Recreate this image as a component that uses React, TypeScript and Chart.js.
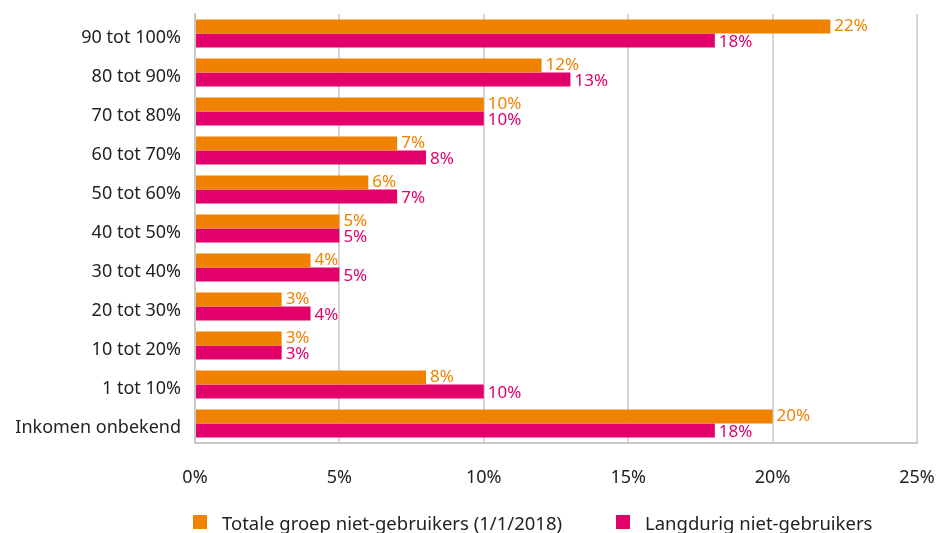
import React, { useEffect, useRef } from "react";
import { Chart, registerables } from "chart.js";

Chart.register(...registerables);

const categories = [
  "90 tot 100%",
  "80 tot 90%",
  "70 tot 80%",
  "60 tot 70%",
  "50 tot 60%",
  "40 tot 50%",
  "30 tot 40%",
  "20 tot 30%",
  "10 tot 20%",
  "1 tot 10%",
  "Inkomen onbekend",
];
const totaleGroep = [22, 12, 10, 7, 6, 5, 4, 3, 3, 8, 20];
const langdurig = [18, 13, 10, 8, 7, 5, 5, 4, 3, 10, 18];
const xTicks = [0, 5, 10, 15, 20, 25];
const seriesNames = ["Totale groep niet-gebruikers (1/1/2018)", "Langdurig niet-gebruikers"];

const ORANGE = "#F08200";
const PINK = "#E2006A";
const COLORS = [ORANGE, PINK];
const FONT = "'Noto Sans', 'Open Sans', sans-serif";

const labelPlugin = {
  id: "barLabels",
  afterDatasetsDraw(chart: any) {
    const ctx = chart.ctx;
    ctx.save();
    ctx.font = `17px ${FONT}`;
    ctx.textBaseline = "middle";
    ctx.textAlign = "left";
    chart.data.datasets.forEach((ds: any, i: number) => {
      const meta = chart.getDatasetMeta(i);
      ctx.fillStyle = ds.backgroundColor;
      meta.data.forEach((el: any, j: number) => {
        ctx.fillText(`${ds.data[j]}%`, el.x + 4, el.y + (i === 1 ? 1.5 : 0));
      });
    });
    ctx.restore();
  },
};

export default function App() {
  const ref = useRef<HTMLCanvasElement>(null);
  useEffect(() => {
    document.body.style.margin = "0";
    const chart = new Chart(ref.current!, {
      type: "bar",
      data: {
        labels: categories,
        datasets: [
          { label: seriesNames[0], data: totaleGroep, backgroundColor: ORANGE },
          { label: seriesNames[1], data: langdurig, backgroundColor: PINK },
        ],
      },
      options: {
        indexAxis: "y",
        animation: false,
        responsive: false,
        maintainAspectRatio: false,
        layout: { padding: { top: 14, right: 22, left: 0, bottom: 0 } },
        datasets: {
          bar: { categoryPercentage: 0.718, barPercentage: 1 },
        },
        scales: {
          x: {
            min: 0,
            max: 25,
            afterBuildTicks: (axis: any) => {
              axis.ticks = xTicks.map((v) => ({ value: v }));
            },
            afterFit: (axis: any) => {
              axis.height = 90;
              axis.paddingLeft = 0;
              axis.paddingRight = 0;
            },
            ticks: {
              callback: (v: any) => `${v}%`,
              color: "#222",
              font: { family: FONT, size: 18 },
              padding: 24,
            },
            grid: { color: "#d6d6d6", lineWidth: 2, drawTicks: false },
            border: { color: "#c8c8c8", width: 2 },
          },
          y: {
            afterFit: (axis: any) => {
              axis.width = 195;
              axis.paddingTop = 0;
              axis.paddingBottom = 0;
            },
            ticks: {
              color: "#222",
              font: { family: FONT, size: 18 },
              padding: 14,
              labelOffset: 4.5,
            },
            grid: { display: false, drawTicks: false },
            border: { color: "#c8c8c8", width: 2 },
          },
        },
        plugins: {
          legend: { display: false },
          tooltip: { enabled: false },
        },
      },
      plugins: [labelPlugin],
    });
    return () => chart.destroy();
  }, []);
  const legendItem = (i: number, left: number) => (
    <div
      style={{
        position: "absolute",
        left,
        top: 511,
        height: 22,
        display: "flex",
        alignItems: "center",
        fontFamily: FONT,
        fontSize: 18.5,
        color: "#222",
        whiteSpace: "nowrap",
      }}
    >
      <span style={{ display: "inline-block", width: 14, height: 14, background: COLORS[i], marginRight: 15 }} />
      <span>{seriesNames[i]}</span>
    </div>
  );
  return (
    <div style={{ position: "relative", width: 939, height: 533, overflow: "hidden" }}>
      <canvas ref={ref} width={939} height={533} style={{ width: 939, height: 533, display: "block" }} />
      {legendItem(0, 193)}
      {legendItem(1, 616)}
    </div>
  );
}
